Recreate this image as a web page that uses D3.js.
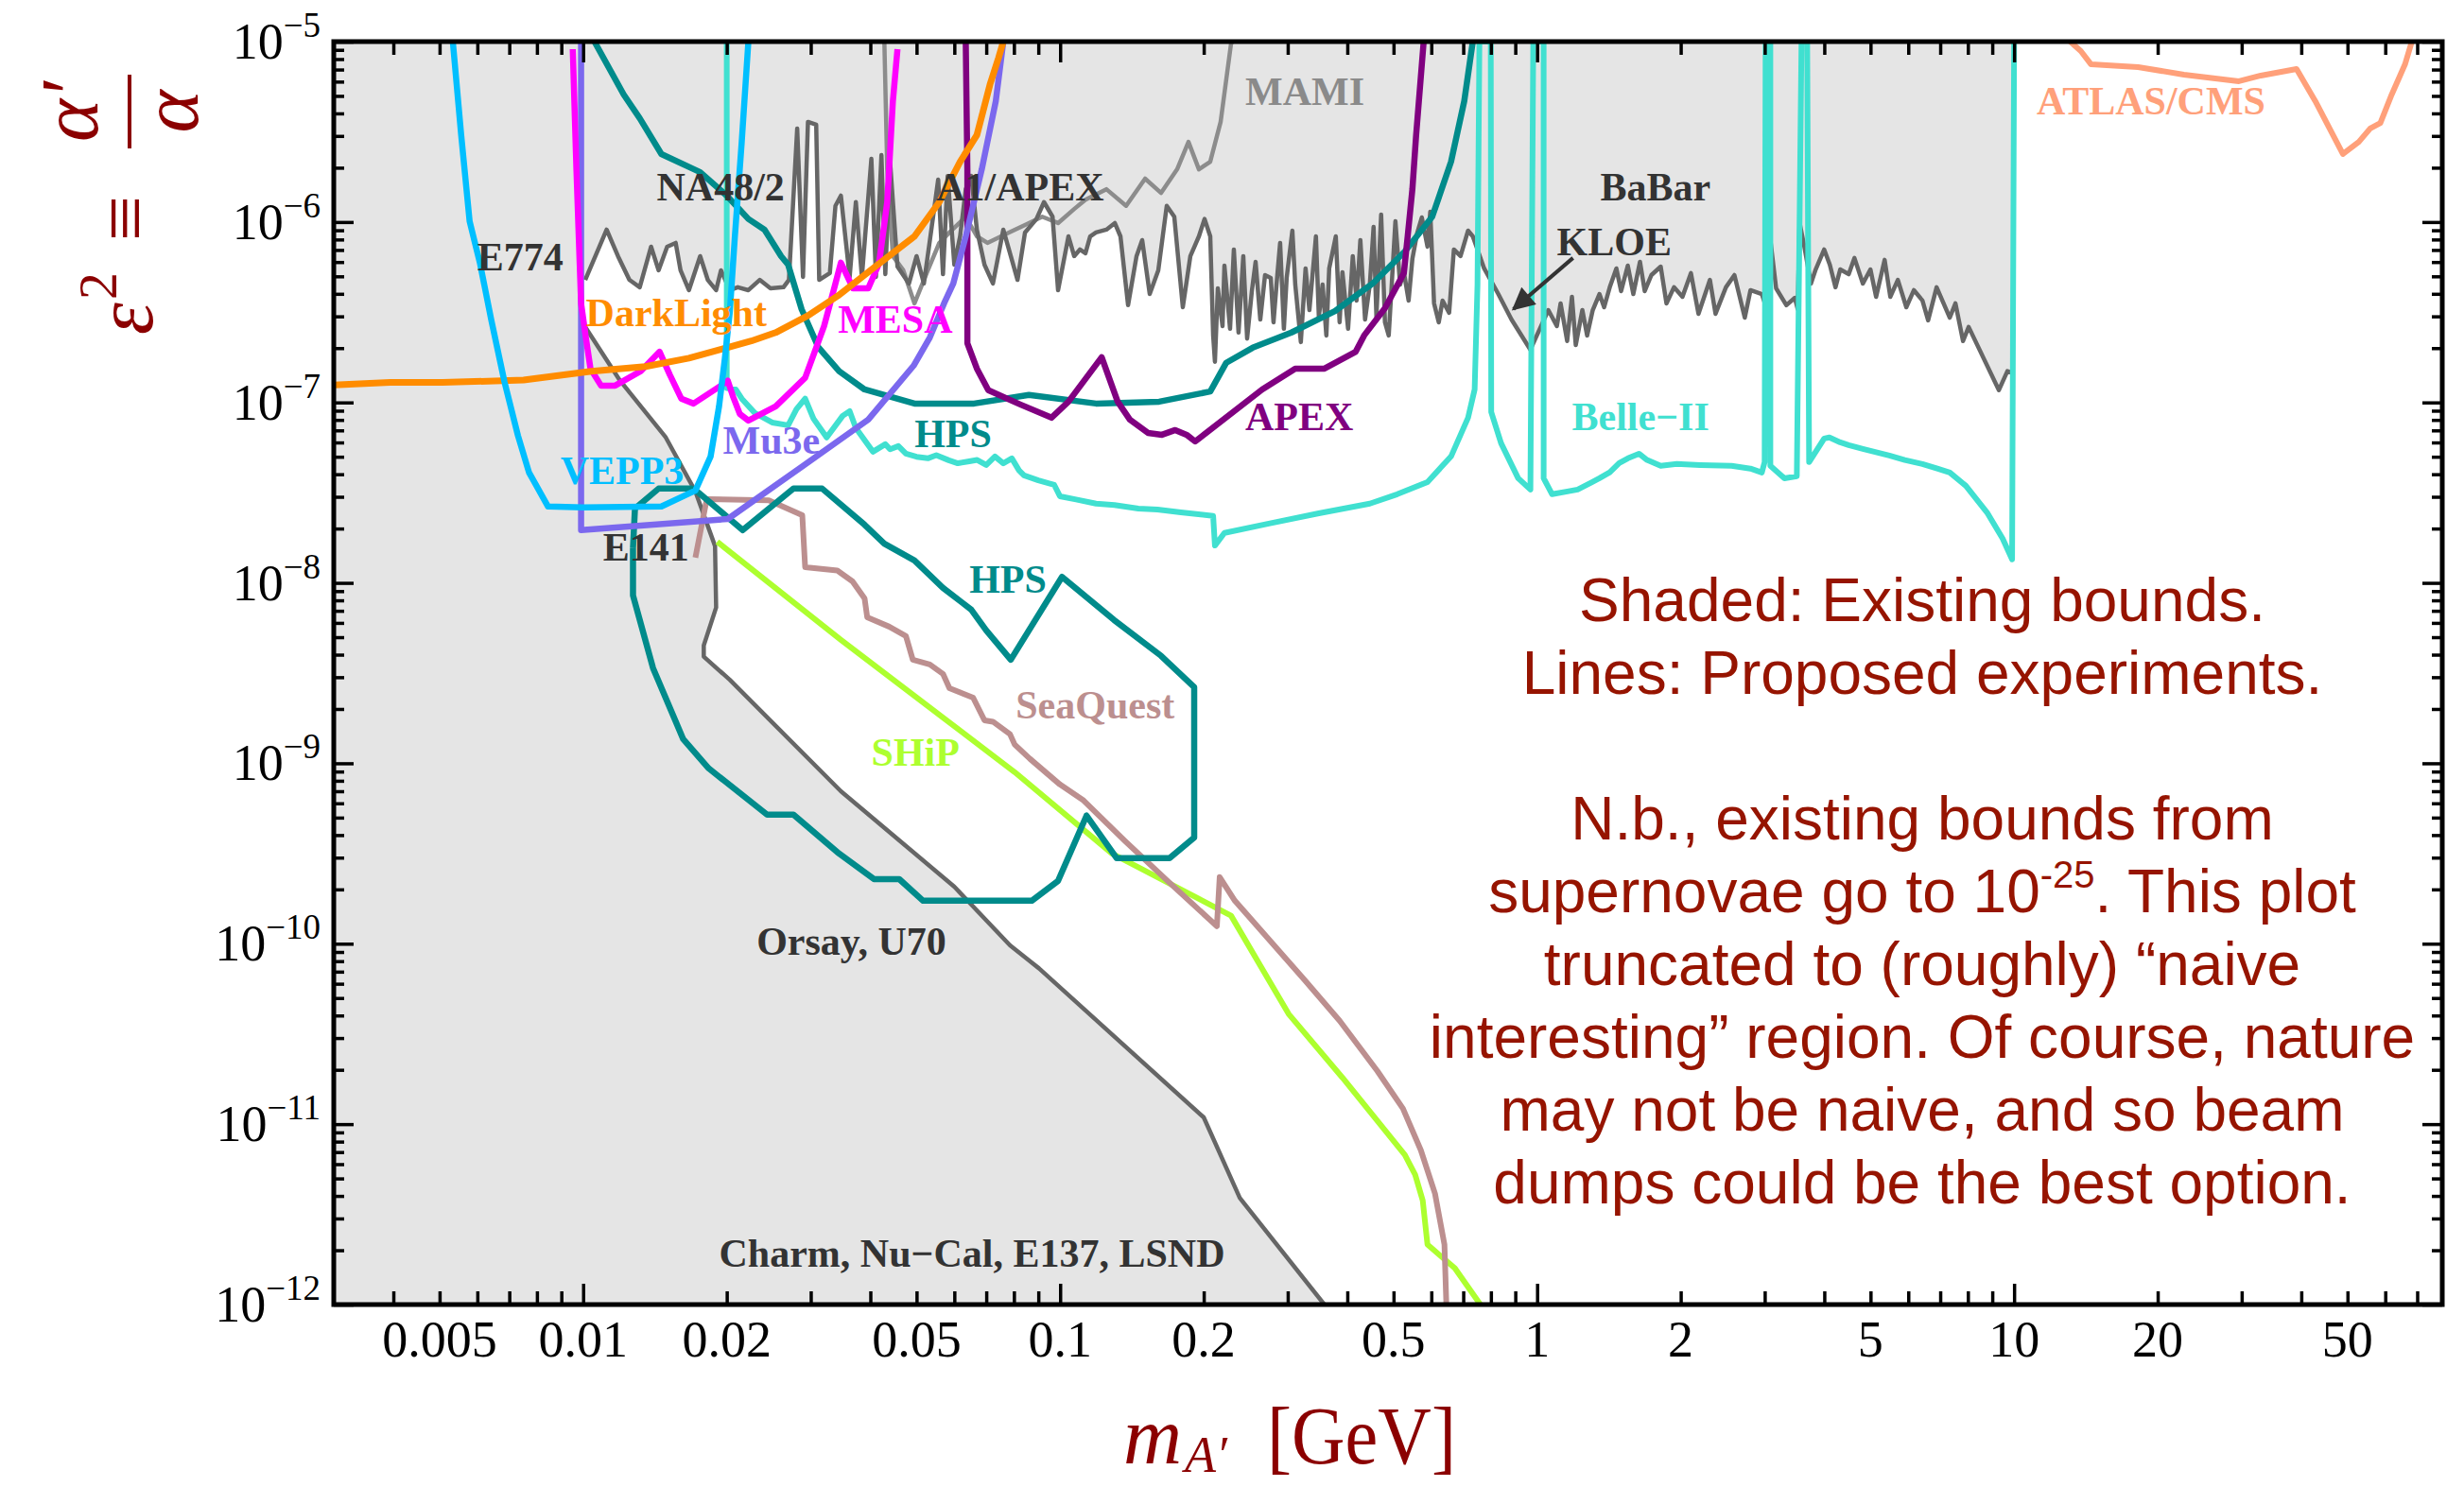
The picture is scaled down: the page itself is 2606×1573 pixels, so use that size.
<!DOCTYPE html>
<html>
<head>
<meta charset="utf-8">
<script src="https://cdn.jsdelivr.net/npm/d3@7"></script>
<style>
  html, body { margin: 0; padding: 0; background: #ffffff; }
  svg { display: block; }
</style>
</head>
<body>
<svg id="chart" width="2606" height="1573"></svg>
<script>
// Dark photon parameter space: kinetic-mixing eps^2 versus A' mass (GeV).
// Each array holds [mass in GeV, eps^2] pairs.

// Upper envelope of existing bounds (E774, NA48/2, A1, BaBar, KLOE), 0.01 - 10 GeV
const topBound = [
  [0.0101,4.78e-7],[0.0112,9.07e-7],[0.01183,6.47e-7],[0.0125,4.78e-7],[0.01314,4.35e-7],[0.01388,7.30e-7],
  [0.01439,5.40e-7],[0.0150,7.30e-7],[0.01563,7.66e-7],[0.0160,5.40e-7],[0.01666,4.19e-7],[0.01759,6.47e-7],
  [0.01825,4.78e-7],[0.0190,4.19e-7],[0.01945,5.40e-7],[0.0203,4.19e-7],[0.0211,4.35e-7],[0.0222,4.19e-7],
  [0.02345,4.78e-7],[0.0247,4.29e-7],[0.0263,4.35e-7],[0.0270,4.78e-7],[0.0281,3.30e-6],[0.0289,4.96e-7],
  [0.0296,3.59e-6],[0.0308,3.46e-6],[0.03125,4.78e-7],[0.0329,5.21e-7],[0.0338,1.23e-6],[0.0347,1.40e-6],
  [0.0362,4.96e-7],[0.0373,1.29e-6],[0.0384,4.96e-7],[0.0402,2.24e-6],[0.0411,4.96e-7],[0.0422,2.35e-6],
  [0.0430,5.14e-7],[0.0440,2.16e-6],[0.0456,5.66e-7],[0.0482,4.56e-7],[0.0500,6.47e-7],[0.0518,4.56e-7],
  [0.0538,9.40e-7],[0.0555,1.72e-6],[0.0568,5.14e-7],[0.0581,1.80e-6],[0.0600,5.80e-7],[0.0617,8.33e-7],
  [0.0634,1.52e-6],[0.0651,1.80e-6],[0.0669,9.07e-7],[0.0694,5.80e-7],[0.0723,4.56e-7],[0.0760,9.07e-7],
  [0.0788,6.47e-7],[0.0814,4.78e-7],[0.0844,8.75e-7],[0.0892,1.04e-6],[0.0925,1.29e-6],[0.0964,1.07e-6],
  [0.0990,4.19e-7],[0.1041,8.33e-7],[0.1070,6.47e-7],[0.1100,7.04e-7],[0.1130,6.71e-7],[0.1156,8.33e-7],
  [0.1189,8.75e-7],[0.1250,9.07e-7],[0.1302,9.87e-7],[0.1338,8.33e-7],[0.1388,3.46e-7],[0.1446,6.47e-7],
  [0.1486,7.94e-7],[0.1541,3.99e-7],[0.1606,5.40e-7],[0.1673,1.23e-6],[0.1735,1.07e-6],[0.1808,3.37e-7],
  [0.1875,6.47e-7],[0.1954,8.33e-7],[0.2008,1.04e-6],[0.2064,8.33e-7],[0.2093,2.35e-7],[0.2111,1.68e-7],
  [0.2141,4.29e-7],[0.2190,2.65e-7],[0.2210,5.73e-7],[0.2271,2.56e-7],[0.2313,7.04e-7],[0.2366,2.44e-7],
  [0.2421,6.47e-7],[0.2466,2.26e-7],[0.2523,4.14e-7],[0.2569,6.02e-7],[0.2628,2.88e-7],[0.2689,5.08e-7],
  [0.2764,4.90e-7],[0.2801,2.78e-7],[0.2853,5.08e-7],[0.2892,7.66e-7],[0.2945,2.56e-7],[0.2985,4.90e-7],
  [0.3068,8.96e-7],[0.3111,4.50e-7],[0.3196,2.16e-7],[0.3270,5.53e-7],[0.3331,3.25e-7],[0.3438,8.33e-7],
  [0.3486,2.99e-7],[0.3550,4.50e-7],[0.3615,2.35e-7],[0.3665,5.53e-7],[0.3784,8.33e-7],[0.3854,2.78e-7],
  [0.3907,5.27e-7],[0.4015,2.56e-7],[0.4107,6.47e-7],[0.4183,3.67e-7],[0.4260,7.94e-7],[0.4358,2.88e-7],
  [0.4459,4.50e-7],[0.4541,9.40e-7],[0.4603,2.99e-7],[0.4710,1.10e-6],[0.4797,2.78e-7],[0.4885,2.35e-7],
  [0.4953,4.35e-7],[0.5045,1.01e-6],[0.5161,4.50e-7],[0.5256,5.27e-7],[0.5377,3.67e-7],[0.5476,6.24e-7],
  [0.5602,8.64e-7],[0.5731,1.06e-6],[0.5890,7.30e-7],[0.5970,1.14e-6],[0.6080,3.54e-7],[0.6220,2.78e-7],
  [0.6336,3.67e-7],[0.6540,3.14e-7],[0.6691,7.04e-7],[0.6909,6.47e-7],[0.7165,8.96e-7],[0.7330,8.33e-7],
  [0.7499,7.04e-7],[0.7743,5.53e-7],[0.8291,3.99e-7],[0.8837,2.88e-7],[0.9681,1.96e-7],
  [1.0556,3.25e-7],[1.100,2.65e-7],[1.120,3.54e-7],[1.156,2.19e-7],[1.183,3.85e-7],[1.205,2.08e-7],
  [1.244,3.25e-7],[1.273,2.35e-7],[1.308,3.25e-7],[1.351,3.99e-7],[1.382,3.37e-7],[1.420,4.35e-7],
  [1.466,5.53e-7],[1.500,4.14e-7],[1.549,5.73e-7],[1.591,3.99e-7],[1.643,6.02e-7],[1.681,4.14e-7],
  [1.736,5.08e-7],[1.816,5.66e-7],[1.867,3.54e-7],[1.936,4.35e-7],[2.017,3.85e-7],[2.101,5.21e-7],
  [2.179,3.10e-7],[2.303,4.78e-7],[2.366,3.10e-7],[2.488,4.35e-7],[2.592,5.08e-7],[2.725,2.95e-7],
  [2.801,4.19e-7],[2.959,3.99e-7],[2.999,3.58e-7],[3.07,8.75e-7],[3.17,4.29e-7],[3.331,3.46e-7],
  [3.470,3.80e-7],[3.518,3.29e-7],[3.551,9.87e-7],[3.633,7.30e-7],[3.750,4.56e-7],[3.837,5.46e-7],
  [3.998,7.04e-7],[4.108,5.80e-7],[4.222,4.35e-7],[4.320,5.46e-7],[4.501,5.14e-7],[4.626,6.32e-7],
  [4.819,4.56e-7],[4.998,5.46e-7],[5.137,3.85e-7],[5.352,6.17e-7],[5.501,3.85e-7],[5.705,4.78e-7],
  [5.943,3.37e-7],[6.165,4.19e-7],[6.424,3.67e-7],[6.603,2.85e-7],[6.879,4.35e-7],[7.331,2.95e-7],
  [7.534,3.54e-7],[7.815,2.19e-7],[8.030,2.62e-7],[9.292,1.17e-7],[9.681,1.49e-7],[10.0,1.45e-7]
];

// Beam-dump bounds (E141, Orsay, U70, Charm, Nu-Cal, E137, LSND)
const beamDump = [
  [0.0100,2.73e-7],[0.01195,1.32e-7],[0.0149,6.4e-8],[0.0172,3.2e-8],[0.0189,1.6e-8],[0.0190,7.3e-9],
  [0.0179,4.5e-9],[0.0179,3.9e-9],[0.0203,2.9e-9],[0.0347,7.0e-10],[0.0600,2.07e-10],[0.0785,9.8e-11],
  [0.0903,7.3e-11],[0.200,1.09e-11],[0.238,3.9e-12],[0.358,1e-12]
];

// MAMI
const mami = [
  [0.0428,1e-5],[0.0434,1.96e-6],[0.0446,6.47e-7],[0.0469,5.40e-7],[0.0495,3.54e-7],[0.0528,5.40e-7],
  [0.0558,7.66e-7],[0.0586,8.75e-7],[0.0634,1.07e-6],[0.0669,8.33e-7],[0.0704,7.66e-7],[0.0781,8.75e-7],
  [0.0844,9.63e-7],[0.0917,1.07e-6],[0.0990,9.87e-7],[0.1070,1.18e-6],[0.1130,1.33e-6],[0.1250,1.52e-6],
  [0.1375,1.23e-6],[0.1507,1.74e-6],[0.1628,1.45e-6],[0.1759,1.96e-6],[0.1858,2.78e-6],[0.1954,1.96e-6],
  [0.2064,2.16e-6],[0.2170,3.59e-6],[0.2282,9.76e-6],[0.2345,1.06e-5]
];

// Proposed experiments
const vepp3 = [
  [0.00533,1e-5],[0.00555,3.03e-6],[0.00578,1.01e-6],[0.00608,5.87e-7],[0.00642,2.85e-7],[0.00684,1.30e-7],
  [0.0073,6.54e-8],[0.0077,4.09e-8],[0.00844,2.65e-8],[0.0100,2.62e-8],[0.01459,2.65e-8],[0.01719,3.25e-8],
  [0.0185,5.02e-8],[0.01927,9.51e-8],[0.01981,1.74e-7],[0.0203,3.18e-7],[0.0208,8.33e-7],[0.0215,2.78e-6],
  [0.0222,1e-5]
];
const darkLight = [
  [0.003,1.25e-7],[0.00394,1.29e-7],[0.00507,1.29e-7],[0.0075,1.33e-7],[0.01041,1.49e-7],[0.0135,1.58e-7],
  [0.01666,1.76e-7],[0.0200,2.01e-7],[0.02251,2.19e-7],[0.02533,2.44e-7],[0.0296,3.03e-7],[0.0342,3.9e-7],
  [0.0417,5.87e-7],[0.0495,8.33e-7],[0.0558,1.29e-6],[0.0617,2.16e-6],[0.0669,3.03e-6],[0.0713,5.81e-6],
  [0.0743,8.15e-6],[0.0760,1e-5]
];
const mesa = [
  [0.00951,9.08e-6],[0.00968,1.96e-6],[0.0099,3.54e-7],[0.01013,2.29e-7],[0.01036,1.54e-7],[0.0109,1.24e-7],
  [0.01167,1.24e-7],[0.0132,1.49e-7],[0.01446,1.91e-7],[0.0152,1.42e-7],[0.01606,1.05e-7],[0.01704,9.86e-8],
  [0.01945,1.24e-7],[0.0201,1.32e-7],[0.02064,1.07e-7],[0.0213,8.63e-8],[0.0222,7.93e-8],[0.02533,9.51e-8],
  [0.0292,1.37e-7],[0.0320,2.65e-7],[0.0338,4.56e-7],[0.0347,5.95e-7],[0.0368,4.29e-7],[0.0396,4.29e-7],
  [0.0417,5.87e-7],[0.0434,1.29e-6],[0.0446,4.68e-6],[0.0456,9.08e-6]
];
const mu3e = [
  [0.0099,1e-5],[0.0099,1.96e-8],[0.0201,2.26e-8],[0.0289,4.45e-8],[0.0396,8.03e-8],[0.0493,1.6e-7],
  [0.0533,2.29e-7],[0.0571,3.54e-7],[0.0597,4.56e-7],[0.0634,8.33e-7],[0.0685,1.96e-6],[0.0733,4.68e-6],
  [0.0760,1e-5]
];
const hpsUpper = [
  [0.01056,1e-5],[0.01216,5.09e-6],[0.01314,3.76e-6],[0.01459,2.38e-6],[0.01759,1.89e-6],[0.0200,1.40e-6],
  [0.0222,1.04e-6],[0.0240,9.07e-7],[0.0260,6.47e-7],[0.0269,5.80e-7],[0.0287,3.29e-7],[0.0311,2.03e-7],
  [0.0344,1.49e-7],[0.0389,1.18e-7],[0.0495,9.86e-8],[0.0660,9.86e-8],[0.0860,1.10e-7],[0.1189,9.86e-8],
  [0.1613,1.01e-7],[0.2064,1.15e-7],[0.2230,1.66e-7],[0.2533,2.01e-7],[0.3054,2.44e-7],[0.3767,3.21e-7],
  [0.4520,4.56e-7],[0.5280,6.87e-7],[0.6026,1.07e-6],[0.6600,2.16e-6],[0.7034,4.68e-6],[0.7330,1e-5]
];
const hpsLower = [
  [0.01272,1.56e-8],[0.01284,2.58e-8],[0.01439,3.33e-8],[0.01689,3.33e-8],[0.01744,3.17e-8],[0.0216,1.96e-8],
  [0.0276,3.33e-8],[0.0317,3.33e-8],[0.0389,2.10e-8],[0.0428,1.65e-8],[0.0495,1.33e-8],[0.0568,9.38e-9],
  [0.0651,7.11e-9],[0.0700,5.45e-9],[0.0788,3.75e-9],[0.1009,1.08e-8],[0.1297,6.23e-9],[0.1628,3.94e-9],
  [0.1910,2.64e-9],[0.1910,3.88e-10],[0.1696,2.98e-10],[0.1314,2.98e-10],[0.1136,5.13e-10],[0.0990,2.23e-10],
  [0.0872,1.73e-10],[0.0516,1.73e-10],[0.0460,2.28e-10],[0.0407,2.28e-10],[0.0344,3.16e-10],[0.0276,5.19e-10],
  [0.0243,5.19e-10],[0.01833,9.37e-10],[0.01621,1.36e-9],[0.01401,3.37e-9],[0.01272,8.52e-9],[0.01272,1.56e-8]
];
const apex = [
  [0.0634,1e-5],[0.0639,1.94e-6],[0.0639,2.13e-7],[0.0669,1.54e-7],[0.0707,1.17e-7],[0.0825,9.74e-8],
  [0.0959,8.23e-8],[0.1041,1.01e-7],[0.1222,1.78e-7],[0.1320,1.01e-7],[0.1400,8.03e-8],[0.1528,6.78e-8],
  [0.1635,6.62e-8],[0.1743,7.03e-8],[0.1841,6.62e-8],[0.1919,6.08e-8],[0.2652,1.18e-7],[0.3111,1.54e-7],
  [0.3582,1.54e-7],[0.4165,1.91e-7],[0.4338,2.35e-7],[0.4797,3.33e-7],[0.5256,5.21e-7],[0.5353,8.33e-7],
  [0.5476,1.52e-6],[0.5576,3.03e-6],[0.5783,1e-5]
];
const belle2 = [
  [0.0200,1e-5],[0.0200,1.20e-7],[0.0209,1.18e-7],[0.0215,1.05e-7],[0.0229,8.74e-8],[0.0249,7.74e-8],
  [0.0269,7.47e-8],[0.0280,9.17e-8],[0.0292,1.05e-7],[0.0304,8.13e-8],[0.0324,6.39e-8],[0.0350,8.43e-8],
  [0.0362,8.95e-8],[0.0373,7.21e-8],[0.0405,5.33e-8],[0.0430,5.87e-8],[0.0440,5.5e-8],[0.0458,5.73e-8],
  [0.0475,5.20e-8],[0.0500,5.0e-8],[0.0528,4.90e-8],[0.0550,5.1e-8],[0.0584,4.78e-8],[0.0610,4.6e-8],
  [0.0645,4.72e-8],[0.0670,4.8e-8],[0.0700,4.50e-8],[0.0730,5.02e-8],[0.0760,4.6e-8],[0.0792,4.90e-8],
  [0.0820,4.2e-8],[0.0840,3.94e-8],[0.0900,3.7e-8],[0.0972,3.49e-8],[0.0999,3.02e-8],[0.1080,2.9e-8],
  [0.1189,2.75e-8],[0.1300,2.7e-8],[0.1459,2.58e-8],[0.1600,2.55e-8],[0.1791,2.46e-8],[0.1950,2.4e-8],
  [0.2093,2.35e-8],[0.2111,1.61e-8],[0.2210,1.89e-8],[0.2738,2.13e-8],[0.3486,2.43e-8],[0.4459,2.75e-8],
  [0.5090,3.10e-8],[0.5890,3.62e-8],[0.6600,5.02e-8],[0.7165,8.23e-8],[0.7396,1.18e-7],[0.7499,4.50e-7],
  [0.7568,1e-5],[0.7995,1e-5],[0.8013,8.84e-8],[0.8403,5.94e-8],[0.9125,3.80e-8],[0.9681,3.29e-8],
  [0.9815,1e-5],[1.032,1e-5],[1.032,3.80e-8],[1.075,3.10e-8],[1.15,3.2e-8],[1.216,3.29e-8],[1.30,3.6e-8],
  [1.351,3.80e-8],[1.42,4.1e-8],[1.486,4.61e-8],[1.55,4.9e-8],[1.635,5.20e-8],[1.70,4.8e-8],[1.816,4.45e-8],
  [1.963,4.56e-8],[2.2,4.5e-8],[2.557,4.45e-8],[2.8,4.3e-8],[2.959,4.09e-8],[2.999,4.67e-8],[3.013,1e-5],
  [3.083,1e-5],[3.083,4.45e-8],[3.3,3.8e-8],[3.503,3.90e-8],[3.583,1e-5],[3.683,1e-5],[3.717,4.67e-8],
  [3.998,6.31e-8],[4.1,6.4e-8],[4.320,6.01e-8],[4.5,5.8e-8],[4.819,5.53e-8],[5.476,5.08e-8],[5.9,4.8e-8],
  [6.424,4.56e-8],[6.9,4.3e-8],[7.331,4.09e-8],[7.922,3.45e-8],[8.797,2.43e-8],[9.462,1.76e-8],
  [9.904,1.35e-8],[10.0,1e-5]
];
const seaQuest = [
  [0.01719,1.38e-8],[0.01816,2.91e-8],[0.0245,2.87e-8],[0.0288,2.37e-8],[0.0292,1.22e-8],[0.0341,1.17e-8],
  [0.0367,1.02e-8],[0.0389,8.21e-9],[0.0394,6.45e-9],[0.0438,5.72e-9],[0.0475,5.07e-9],[0.0491,3.75e-9],
  [0.0533,3.53e-9],[0.0568,3.13e-9],[0.0586,2.61e-9],[0.0657,2.31e-9],[0.0694,1.73e-9],[0.0723,1.70e-9],
  [0.0785,1.45e-9],[0.0803,1.27e-9],[0.0864,1.06e-9],[0.0999,7.63e-10],[0.1120,6.22e-10],[0.1369,3.70e-10],
  [0.1688,2.20e-10],[0.2131,1.25e-10],[0.2160,2.34e-10],[0.2324,1.73e-10],[0.3256,6.29e-11],[0.3854,3.74e-11],
  [0.4625,1.97e-11],[0.5232,1.22e-11],[0.5705,7.17e-12],[0.6108,4.12e-12],[0.6393,2.15e-12],[0.6452,1e-12]
];
const ship = [
  [0.0191,1.69e-8],[0.0347,4.83e-9],[0.0803,8.93e-10],[0.1284,3.16e-10],[0.2282,1.43e-10],[0.3013,4.08e-11],
  [0.3907,1.81e-11],[0.5280,6.75e-12],[0.5550,5.24e-12],[0.5756,3.78e-12],[0.5890,2.15e-12],[0.6722,1.59e-12],
  [0.7603,1e-12]
];
const atlasCms = [
  [12.9,1.04e-5],[13.8,8.86e-6],[14.5,7.48e-6],[18.2,7.22e-6],[22.7,6.56e-6],[29.6,6.03e-6],[32.9,6.48e-6],
  [39.1,7.05e-6],[42.8,4.68e-6],[48.9,2.38e-6],[52.8,2.78e-6],[55.8,3.30e-6],[58.6,3.54e-6],[61.9,5.09e-6],
  [66.0,7.48e-6],[68.5,1.04e-5]
];

// Axis ticks
const xTickLabels = [0.005, 0.01, 0.02, 0.05, 0.1, 0.2, 0.5, 1, 2, 5, 10, 20, 50];
const xMajorTicks = [0.01, 0.1, 1, 10];
const yExponents = [-5, -6, -7, -8, -9, -10, -11, -12];

// Series labels: [text, mass, eps^2 at baseline, colour]
const seriesLabels = [
  ["MAMI", 0.2444, 4.46e-6, "#8a8a8a"],
  ["NA48/2", 0.01426, 1.32e-6, "#333333"],
  ["A1/APEX", 0.0550, 1.32e-6, "#333333"],
  ["BaBar", 1.357, 1.32e-6, "#333333"],
  ["KLOE", 1.100, 6.55e-7, "#333333"],
  ["E774", 0.0060, 5.40e-7, "#333333"],
  ["DarkLight", 0.01013, 2.65e-7, "#ff8c00"],
  ["MESA", 0.0342, 2.44e-7, "#ff00ff"],
  ["Mu3e", 0.01963, 5.20e-8, "#7b68ee"],
  ["HPS", 0.0495, 5.66e-8, "#008b8b"],
  ["APEX", 0.2444, 7.03e-8, "#800080"],
  ["Belle\u2212II", 1.183, 7.03e-8, "#40e0d0"],
  ["VEPP3", 0.00896, 3.54e-8, "#00bfff"],
  ["E141", 0.0110, 1.33e-8, "#333333"],
  ["HPS", 0.0645, 8.83e-9, "#008b8b"],
  ["SeaQuest", 0.0807, 1.78e-9, "#bc8f8f"],
  ["SHiP", 0.0402, 9.71e-10, "#adff2f"],
  ["Orsay, U70", 0.0231, 8.71e-11, "#333333"],
  ["Charm, Nu\u2212Cal, E137, LSND", 0.01927, 1.63e-12, "#333333"],
  ["ATLAS/CMS", 11.15, 3.95e-6, "#ffa07a"]
];

const noteLines = [
  "Shaded: Existing bounds.",
  "Lines: Proposed experiments.",
  "",
  "N.b., existing bounds from",
  ["supernovae go to 10", "-25", ". This plot"],
  "truncated to (roughly) \u201cnaive",
  "interesting\u201d region. Of course, nature",
  "may not be naive, and so beam",
  "dumps could be the best option."
];

// ---------------------------------------------------------------
const W = 2606, H = 1573;
const L = 353, R = 2583, T = 44, B = 1380;
const svg = d3.select("#chart");
svg.append("rect").attr("width", W).attr("height", H).attr("fill", "#ffffff");

const x = d3.scaleLog().domain([0.003, 79]).range([L, R]);
const y = d3.scaleLog().domain([1e-12, 1e-5]).range([B, T]);
const line = d3.line().x(d => x(d[0])).y(d => y(d[1]));

const defs = svg.append("defs");
defs.append("clipPath").attr("id", "plotClip")
  .append("rect").attr("x", L).attr("y", T).attr("width", R - L).attr("height", B - T);

const plot = svg.append("g").attr("clip-path", "url(#plotClip)");

// shaded excluded region
const shadePoly = [[0.003, 1e-12], [0.003, 1e-5], [10, 1e-5]]
  .concat(topBound.slice().reverse())
  .concat([[0.01, topBound[0][1]]])
  .concat(beamDump)
  .concat([[beamDump[beamDump.length - 1][0], 1e-12]]);
plot.append("path").attr("d", line(shadePoly) + "Z").attr("fill", "#e5e5e5").attr("stroke", "none");

function drawLine(data, color, width) {
  plot.append("path").attr("d", line(data)).attr("fill", "none")
    .attr("stroke", color).attr("stroke-width", width)
    .attr("stroke-linejoin", "round").attr("stroke-linecap", "butt");
}

drawLine(mami, "#8c8c8c", 4.5);
drawLine(topBound, "#666666", 4.5);
drawLine(beamDump, "#666666", 4.5);

drawLine(atlasCms, "#ffa07a", 6);
drawLine(belle2, "#40e0d0", 6);
drawLine(ship, "#adff2f", 6);
drawLine(seaQuest, "#bc8f8f", 6);
drawLine(hpsLower, "#008b8b", 6.5);
drawLine(hpsUpper, "#008b8b", 6.5);
drawLine(apex, "#800080", 6.5);
drawLine(mu3e, "#7b68ee", 6.5);
drawLine(mesa, "#ff00ff", 6.5);
drawLine(darkLight, "#ff8c00", 7);
drawLine(vepp3, "#00bfff", 6.5);

// series labels
const labelG = svg.append("g")
  .style("font-family", "'Liberation Serif', 'Times New Roman', serif")
  .style("font-weight", "bold").style("font-size", "42px");
seriesLabels.forEach(([t, m, e, c]) => {
  labelG.append("text").attr("x", x(m)).attr("y", y(e)).attr("fill", c).text(t);
});

// KLOE arrow
defs.append("marker").attr("id", "arrowHead").attr("viewBox", "0 0 10 10")
  .attr("refX", 9).attr("refY", 5)
  .attr("markerUnits", "userSpaceOnUse").attr("orient", "auto")
  .attr("markerWidth", 34).attr("markerHeight", 24)
  .append("path").attr("d", "M0,0 L10,5 L0,10 z").attr("fill", "#333333");
svg.append("line")
  .attr("x1", x(1.189)).attr("y1", y(6.32e-7))
  .attr("x2", x(0.892)).attr("y2", y(3.29e-7))
  .attr("stroke", "#333333").attr("stroke-width", 4)
  .attr("marker-end", "url(#arrowHead)");

// note text
const noteG = svg.append("g")
  .style("font-family", "'Liberation Sans', Arial, Helvetica, sans-serif")
  .style("font-size", "64px").attr("fill", "#961400").attr("text-anchor", "middle");
noteLines.forEach((ln, i) => {
  const t = noteG.append("text").attr("x", 2033).attr("y", 657 + i * 77);
  if (Array.isArray(ln)) {
    t.append("tspan").text(ln[0]);
    t.append("tspan").attr("dy", -26).style("font-size", "40px").text(ln[1]);
    t.append("tspan").attr("dy", 26).text(ln[2]);
  } else {
    t.text(ln);
  }
});

// axes with inward ticks on all four sides
const xMinor = [];
[0.001, 0.01, 0.1, 1, 10].forEach(d => {
  for (let k = 2; k <= 9; k++) {
    const v = k * d;
    if (v > 0.003 && v < 79) xMinor.push(v);
  }
});
const yMinor = [];
for (let p = -12; p < -5; p++) {
  for (let k = 2; k <= 9; k++) yMinor.push(k * Math.pow(10, p));
}
const yMajor = yExponents.map(e => Math.pow(10, e));

function styleAxis(g) {
  g.select(".domain").remove();
  g.selectAll("line").attr("stroke", "#000").attr("stroke-width", 3.5);
}
const axG = svg.append("g");
axG.append("g").attr("transform", `translate(0,${B})`)
  .call(d3.axisBottom(x).tickValues(xMinor).tickSize(-14).tickFormat("")).call(styleAxis);
axG.append("g").attr("transform", `translate(0,${B})`)
  .call(d3.axisBottom(x).tickValues(xMajorTicks).tickSize(-22).tickFormat("")).call(styleAxis);
axG.append("g").attr("transform", `translate(0,${T})`)
  .call(d3.axisTop(x).tickValues(xMinor).tickSize(-14).tickFormat("")).call(styleAxis);
axG.append("g").attr("transform", `translate(0,${T})`)
  .call(d3.axisTop(x).tickValues(xMajorTicks).tickSize(-22).tickFormat("")).call(styleAxis);
axG.append("g").attr("transform", `translate(${L},0)`)
  .call(d3.axisLeft(y).tickValues(yMinor).tickSize(-11).tickFormat("")).call(styleAxis);
axG.append("g").attr("transform", `translate(${L},0)`)
  .call(d3.axisLeft(y).tickValues(yMajor).tickSize(-21).tickFormat("")).call(styleAxis);
axG.append("g").attr("transform", `translate(${R},0)`)
  .call(d3.axisRight(y).tickValues(yMinor).tickSize(-11).tickFormat("")).call(styleAxis);
axG.append("g").attr("transform", `translate(${R},0)`)
  .call(d3.axisRight(y).tickValues(yMajor).tickSize(-21).tickFormat("")).call(styleAxis);

// frame
svg.append("rect").attr("x", L).attr("y", T).attr("width", R - L).attr("height", B - T)
  .attr("fill", "none").attr("stroke", "#000").attr("stroke-width", 5);

// tick labels
const tickFont = "'Liberation Serif', 'Times New Roman', serif";
const xl = svg.append("g").style("font-family", tickFont).style("font-size", "54px")
  .attr("text-anchor", "middle").attr("fill", "#000");
xTickLabels.forEach(v => {
  xl.append("text").attr("x", x(v)).attr("y", 1435).text(String(v));
});
const yl = svg.append("g").style("font-family", tickFont).attr("fill", "#000");
yExponents.forEach(e => {
  const t = yl.append("text").attr("x", 339).attr("y", y(Math.pow(10, e)) + 18)
    .attr("text-anchor", "end").style("font-size", "54px");
  t.append("tspan").text("10");
  t.append("tspan").attr("dy", -23).style("font-size", "37px").text("\u2212" + Math.abs(e));
});

// axis titles
const titleColor = "#8b0000";
const xt = svg.append("text").attr("y", 1548).attr("fill", titleColor)
  .style("font-family", tickFont).style("font-size", "86px");
xt.append("tspan").attr("x", 1188).style("font-style", "italic").text("m");
xt.append("tspan").attr("x", 1253).attr("dy", 9).style("font-style", "italic").style("font-size", "54px").text("A\u2032");
xt.append("tspan").attr("x", 1340).attr("dy", -9).attr("textLength", 200).attr("lengthAdjust", "spacingAndGlyphs").text("[GeV]");

const yt = svg.append("g").attr("transform", "translate(161,357) rotate(-90)")
  .attr("fill", titleColor).style("font-family", tickFont);
yt.append("text").attr("x", 3).attr("y", 0).style("font-style", "italic").style("font-size", "86px").text("\u03b5");
yt.append("text").attr("x", 40).attr("y", -38).style("font-size", "58px").text("2");
yt.append("text").attr("x", 102).attr("y", 0).style("font-size", "86px").text("\u2261");
yt.append("text").attr("x", 239).attr("y", -58).attr("text-anchor", "middle")
  .style("font-style", "italic").style("font-size", "86px").text("\u03b1\u2032");
yt.append("line").attr("x1", 200).attr("x2", 278).attr("y1", -24).attr("y2", -24)
  .attr("stroke", titleColor).attr("stroke-width", 4);
yt.append("text").attr("x", 239).attr("y", 48).attr("text-anchor", "middle")
  .style("font-style", "italic").style("font-size", "86px").text("\u03b1");
</script>
</body>
</html>
